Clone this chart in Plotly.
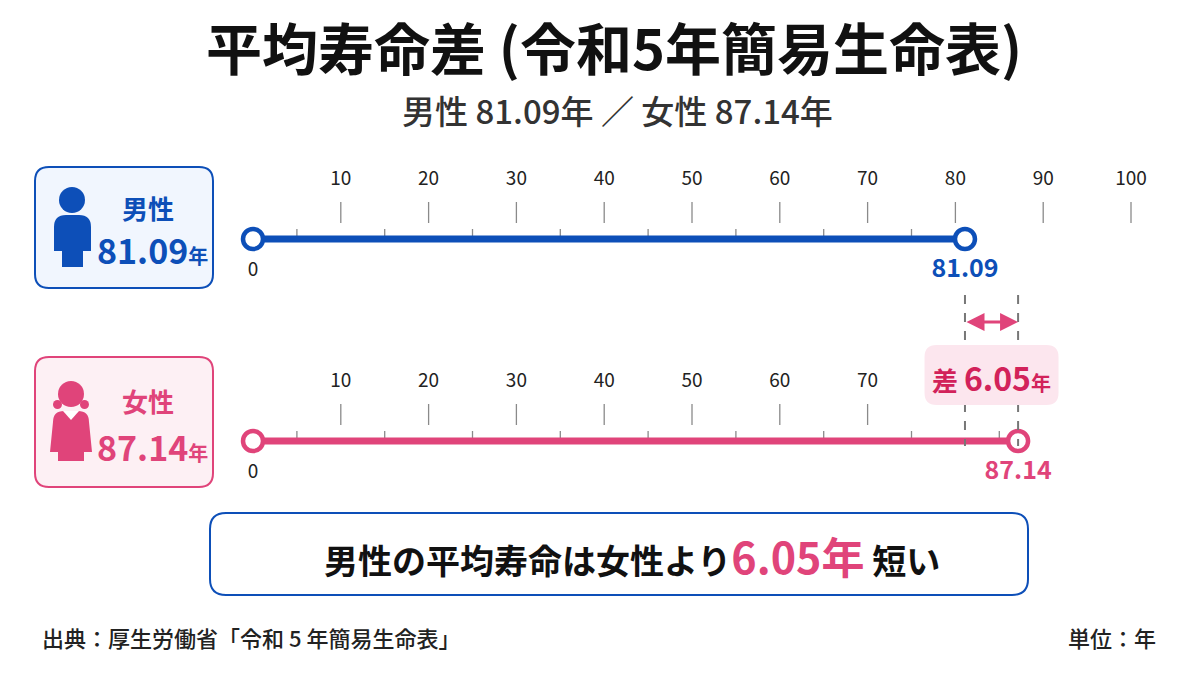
import plotly.graph_objects as go

# values (years)
male_life = 81.09
female_life = 87.14
life_gap = 6.05
male_ticks = [10, 20, 30, 40, 50, 60, 70, 80, 90, 100]
female_ticks = [10, 20, 30, 40, 50, 60, 70]
minor_ticks = [5, 15, 25, 35, 45, 55, 65, 75, 85, 95]

BLUE = '#0d4fb8'
PINK = '#e0447a'
CRIMSON = '#d2225a'
GRAY = '#8a8a8a'
FONT = 'Noto Sans CJK JP'

# pixel mapping of the timeline axis
X0_PX = 253
PX_PER_YR = 8.78
x_range = [-X0_PX / PX_PER_YR, (1200 - X0_PX) / PX_PER_YR]


def yr_px(v):
    return X0_PX + v * PX_PER_YR


def rrect(x0, y0, x1, y1, r):
    return (f'M {x0 + r},{y0} L {x1 - r},{y0} Q {x1},{y0} {x1},{y0 + r} '
            f'L {x1},{y1 - r} Q {x1},{y1} {x1 - r},{y1} L {x0 + r},{y1} '
            f'Q {x0},{y1} {x0},{y1 - r} L {x0},{y0 + r} Q {x0},{y0} {x0 + r},{y0} Z')


fig = go.Figure()


def add_timeline(life, ticks, y_line, color):
    # major ticks above the line
    xs, ys = [], []
    for t in ticks:
        xs += [t, t, None]
        ys += [y_line - 37, y_line - 16, None]
    fig.add_scatter(x=xs, y=ys, mode='lines', line=dict(color=GRAY, width=1.3),
                    hoverinfo='skip', showlegend=False)
    # minor ticks sitting on the line
    xs, ys = [], []
    for t in minor_ticks:
        if t < life:
            xs += [t, t, None]
            ys += [y_line - 10, y_line - 2, None]
    fig.add_scatter(x=xs, y=ys, mode='lines', line=dict(color=GRAY, width=1.3),
                    hoverinfo='skip', showlegend=False)
    fig.add_scatter(x=ticks, y=[y_line - 59] * len(ticks), mode='text',
                    text=[str(t) for t in ticks],
                    textfont=dict(family=FONT, size=19, color='#222'),
                    hoverinfo='skip', showlegend=False)
    fig.add_scatter(x=[0, life], y=[y_line, y_line], mode='lines',
                    line=dict(color=color, width=7), hoverinfo='skip', showlegend=False)
    fig.add_scatter(x=[0, life], y=[y_line, y_line], mode='markers',
                    marker=dict(symbol='circle', size=20, color='white',
                                line=dict(color=color, width=4.5)),
                    hoverinfo='skip', showlegend=False)
    fig.add_scatter(x=[0], y=[y_line + 32], mode='text', text=['0'],
                    textfont=dict(family=FONT, size=19, color='#222'),
                    hoverinfo='skip', showlegend=False)
    fig.add_scatter(x=[life], y=[y_line + 32], mode='text', text=[f'<b>{life:.2f}</b>'],
                    textfont=dict(family=FONT, size=25, color=color),
                    hoverinfo='skip', showlegend=False)


add_timeline(male_life, male_ticks, 239, BLUE)
add_timeline(female_life, female_ticks, 441, PINK)

# dashed guides at both life expectancies
for v in [male_life, female_life]:
    fig.add_scatter(x=[v, v], y=[295, 446], mode='lines',
                    line=dict(color='#777', width=2, dash='dash'),
                    hoverinfo='skip', showlegend=False)

# dummy trace for the pixel overlay axis
fig.add_scatter(x=[0, 1200], y=[0, 0], xaxis='x2', mode='markers',
                marker=dict(opacity=0), hoverinfo='skip', showlegend=False)

shapes = []
# gap label box
cx = yr_px((male_life + female_life) / 2)
shapes.append(dict(type='path', xref='x2', yref='y', path=rrect(cx - 67, 345, cx + 67, 405, 12),
                   fillcolor='#fce6ee', line=dict(width=0), layer='above'))

# cards
shapes.append(dict(type='path', xref='x2', yref='y', path=rrect(35, 167, 213, 288, 14),
                   fillcolor='#f1f6fe', line=dict(color=BLUE, width=2)))
shapes.append(dict(type='path', xref='x2', yref='y', path=rrect(35, 357, 213, 487, 14),
                   fillcolor='#fdf0f4', line=dict(color=PINK, width=2)))
# message box
shapes.append(dict(type='path', xref='x2', yref='y', path=rrect(210, 513, 1028, 595, 16),
                   fillcolor='white', line=dict(color=BLUE, width=2)))

# male icon
shapes.append(dict(type='circle', xref='x2', yref='y', x0=59, x1=85, y0=187, y1=213,
                   fillcolor=BLUE, line=dict(width=0)))
shapes.append(dict(type='path', xref='x2', yref='y',
                   path='M 54,227 Q 54,215 66,215 L 79,215 Q 91,215 91,227 L 91,251 '
                        'L 83,251 L 83,267 L 62,267 L 62,251 L 54,251 Z',
                   fillcolor=BLUE, line=dict(width=0)))
# female icon
shapes.append(dict(type='circle', xref='x2', yref='y', x0=53, x1=62, y0=400, y1=409,
                   fillcolor=PINK, line=dict(width=0)))
shapes.append(dict(type='circle', xref='x2', yref='y', x0=80, x1=89, y0=400, y1=409,
                   fillcolor=PINK, line=dict(width=0)))
shapes.append(dict(type='circle', xref='x2', yref='y', x0=58, x1=84, y0=381, y1=407,
                   fillcolor=PINK, line=dict(width=0)))
shapes.append(dict(type='path', xref='x2', yref='y',
                   path='M 53,422 Q 53,411 64,411 L 78,411 Q 89,411 89,422 L 92,452 '
                        'L 84,452 L 84,461 L 58,461 L 58,452 L 50,452 Z',
                   fillcolor=PINK, line=dict(width=0)))
shapes.append(dict(type='path', xref='x2', yref='y',
                   path='M 63,411 L 71,420 L 79,411 Z',
                   fillcolor='white', line=dict(width=0)))

anns = []


def txt(x, y, text, size, color='#111', xanchor='center', weight='normal'):
    anns.append(dict(x=x, y=y, xref='x2', yref='y', text=text, showarrow=False,
                     xanchor=xanchor, yanchor='middle',
                     font=dict(family=FONT, size=size, color=color, weight=weight)))


txt(614, 45, '<b>平均寿命差 (令和5年簡易生命表)</b>', 56)
txt(617, 110, f'男性 {male_life:.2f}年 ／ 女性 {female_life:.2f}年', 33, '#333', weight=500)

txt(148, 207, '<b>男性</b>', 26, BLUE)
txt(152, 249, f'<b>{male_life:.2f}</b><span style="font-size:20px"><b>年</b></span>', 34, BLUE)
txt(148, 400, '<b>女性</b>', 26, PINK)
txt(152, 446, f'<b>{female_life:.2f}</b><span style="font-size:20px"><b>年</b></span>', 34, PINK)

txt(cx, 377, f'<b>差 <span style="font-size:32px">{life_gap:.2f}</span>'
             f'<span style="font-size:20px">年</span></b>', 26, CRIMSON)

txt(632, 555, f'<b>男性の平均寿命は女性より<span style="color:{PINK};font-size:43px">'
              f'{life_gap:.2f}年</span> 短い</b>', 34, '#111')

txt(40, 637, '出典：厚生労働省「令和 5 年簡易生命表」', 22, '#222', xanchor='left', weight=500)
txt(1158, 637, '単位：年', 22, '#222', xanchor='right', weight=500)

# gap arrow
anns.append(dict(x=female_life, y=322, ax=male_life, ay=322, xref='x', yref='y',
                 axref='x', ayref='y', text='', showarrow=True, arrowside='end+start',
                 arrowhead=2, arrowsize=1.2, arrowwidth=3, arrowcolor=PINK))

fig.update_layout(
    width=1200, height=675, margin=dict(l=0, r=0, t=0, b=0),
    paper_bgcolor='white', plot_bgcolor='white',
    xaxis=dict(range=x_range, visible=False, fixedrange=True),
    xaxis2=dict(range=[0, 1200], overlaying='x', visible=False, fixedrange=True),
    yaxis=dict(range=[675, 0], visible=False, fixedrange=True),
    shapes=shapes, annotations=anns, showlegend=False,
)
fig.write_html('out.html', config={'displayModeBar': False},
               post_script="document.body.style.margin='0';")
